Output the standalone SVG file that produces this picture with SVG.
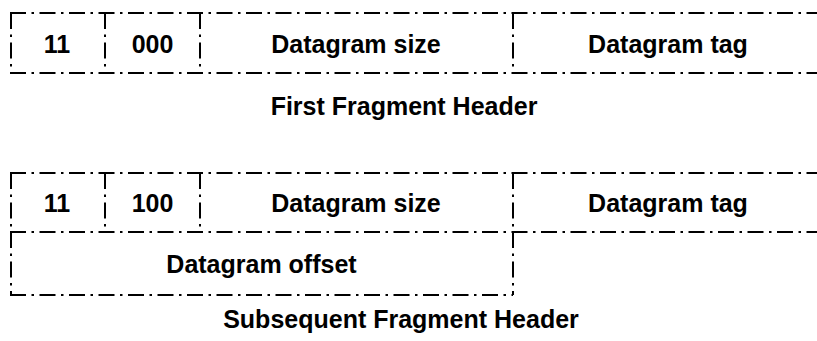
<svg xmlns="http://www.w3.org/2000/svg" width="817" height="341" viewBox="0 0 817 341">
<style>
.ln{fill:none;stroke:#000;stroke-width:2;stroke-dasharray:16 5.5 2.5 5.5;}
.t{font-family:"Liberation Sans",Arial,Helvetica,sans-serif;font-weight:bold;font-size:25px;fill:#000;text-anchor:middle;}
</style>
<rect width="817" height="341" fill="#fff"/>
<g id="grid">
  <path class="ln" d="M10,13 H817"/>
  <path class="ln" d="M10,73 H817"/>
  <path class="ln" d="M11,13 V73"/>
  <path class="ln" d="M105,13 V73"/>
  <path class="ln" d="M200,13 V73"/>
  <path class="ln" d="M513,13 V73"/>
  <path class="ln" d="M10,173 H817"/>
  <path class="ln" d="M10,232 H817"/>
  <path class="ln" d="M10,295 H513"/>
  <path class="ln" d="M11,173 V295"/>
  <path class="ln" d="M105,173 V232"/>
  <path class="ln" d="M200,173 V232"/>
  <path class="ln" d="M513,173 V295"/>
</g>
<g id="first-11"><text class="t" x="57" y="53">11</text></g>
<g id="first-000"><text class="t" x="152.5" y="53">000</text></g>
<g id="first-size"><text class="t" x="356" y="53">Datagram size</text></g>
<g id="first-tag"><text class="t" x="668" y="53">Datagram tag</text></g>
<g id="first-caption"><text class="t" x="404" y="115">First Fragment Header</text></g>
<g id="sub-11"><text class="t" x="57" y="212">11</text></g>
<g id="sub-100"><text class="t" x="152.5" y="212">100</text></g>
<g id="sub-size"><text class="t" x="356" y="212">Datagram size</text></g>
<g id="sub-tag"><text class="t" x="668" y="212">Datagram tag</text></g>
<g id="sub-offset"><text class="t" x="261.5" y="273">Datagram offset</text></g>
<g id="sub-caption"><text class="t" x="401" y="328">Subsequent Fragment Header</text></g>
<g id="connectors"/>
</svg>
